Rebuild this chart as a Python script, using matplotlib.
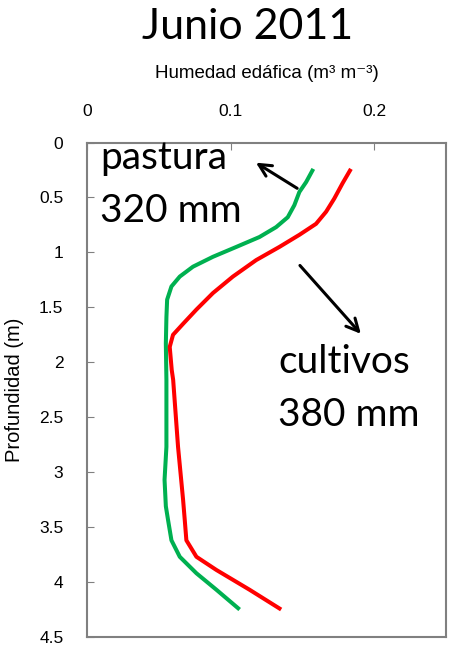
import matplotlib
matplotlib.use('Agg')
import matplotlib.pyplot as plt

# profundidad (m) y humedad (m3 m-3)
prof_pastura = [0.24, 0.36, 0.45, 0.57, 0.68, 0.77, 0.86, 0.95, 1.04, 1.13, 1.22, 1.31, 1.43, 1.59, 1.83,
                2.16, 2.77, 3.07, 3.31, 3.44, 3.62, 3.77, 3.92, 4.07, 4.25]
hum_pastura = [0.1576, 0.1526, 0.1479, 0.1444, 0.1398, 0.1317, 0.1201, 0.1040, 0.0877, 0.0738, 0.0646, 0.0588, 0.0558, 0.0553, 0.0549,
               0.0553, 0.0553, 0.054, 0.0549, 0.0565, 0.0588, 0.0646, 0.0762, 0.0901, 0.1063]

prof_cultivos = [0.24, 0.37, 0.51, 0.63, 0.74, 0.84, 0.95, 1.07, 1.22, 1.37, 1.52, 1.65, 1.75, 1.86, 2.07,
                 2.16, 2.77, 3.25, 3.44, 3.62, 3.77, 3.89, 4.07, 4.25]
hum_cultivos = [0.1838, 0.1780, 0.1722, 0.1665, 0.1595, 0.1479, 0.1340, 0.1178, 0.1016, 0.0877, 0.0762, 0.0669, 0.0599, 0.0576, 0.059,
                0.060, 0.0634, 0.0669, 0.0681, 0.0692, 0.0762, 0.0901, 0.1132, 0.1352]

x_ticks = [0, 0.1, 0.2]
y_ticks = [0, 0.5, 1, 1.5, 2, 2.5, 3, 3.5, 4, 4.5]

fig = plt.figure(figsize=(4.52, 6.49), dpi=100)
ax = fig.add_axes([0.1925, 0.0185, 0.7942, 0.7619])

ax.plot(hum_pastura, prof_pastura, color='#00B050', lw=2.9, solid_capstyle='butt', solid_joinstyle='round')
ax.plot(hum_cultivos, prof_cultivos, color='#FF0000', lw=2.9, solid_capstyle='butt', solid_joinstyle='round')

ax.set_xlim(0, 0.25)
ax.set_ylim(4.5, 0)
ax.xaxis.tick_top()
ax.xaxis.set_label_position('top')
ax.set_xticks(x_ticks)
ax.set_xticklabels(['0', '0.1', '0.2'])
ax.set_yticks(y_ticks)
ax.set_yticklabels(['0', '0.5', '1', '1.5', '2', '2.5', '3', '3.5', '4', '4.5'])
ax.tick_params(axis='x', direction='in', length=5, color='#808080', labelsize=12.5, pad=17)
ax.tick_params(axis='y', direction='in', length=5, color='#808080', labelsize=12.5, pad=17)
for t in ax.get_xticklabels() + ax.get_yticklabels():
    t.set_family('Liberation Sans')
for s in ax.spines.values():
    s.set_color('#808080')
    s.set_linewidth(1.5)

ax.set_xlabel('Humedad edáfica (m³ m⁻³)', family=['Liberation Sans', 'DejaVu Sans'], fontsize=13.5, labelpad=19)
ax.set_ylabel('Profundidad (m)', family='Liberation Sans', fontsize=14.5)
ax.yaxis.set_label_coords(-0.175, 0.5)

fig.text(0.547, 0.958, 'Junio 2011', ha='center', va='center', family='Lato', fontsize=31)

ax.text(0.009, 0.14, 'pastura', fontsize=28, family='Lato', va='center')
ax.text(0.009, 0.62, '320 mm', fontsize=28, family='Lato', va='center')
ax.text(0.133, 2.0, 'cultivos', fontsize=28, family='Lato', va='center')
ax.text(0.133, 2.48, '380 mm', fontsize=28, family='Lato', va='center')

ax.annotate('', xy=(0.116, 0.17), xytext=(0.148, 0.43),
            arrowprops=dict(arrowstyle='->', lw=2.2, color='black', mutation_scale=22))
ax.annotate('', xy=(0.192, 1.76), xytext=(0.147, 1.10),
            arrowprops=dict(arrowstyle='->', lw=2.2, color='black', mutation_scale=22))

fig.savefig('out.png', dpi=100)
